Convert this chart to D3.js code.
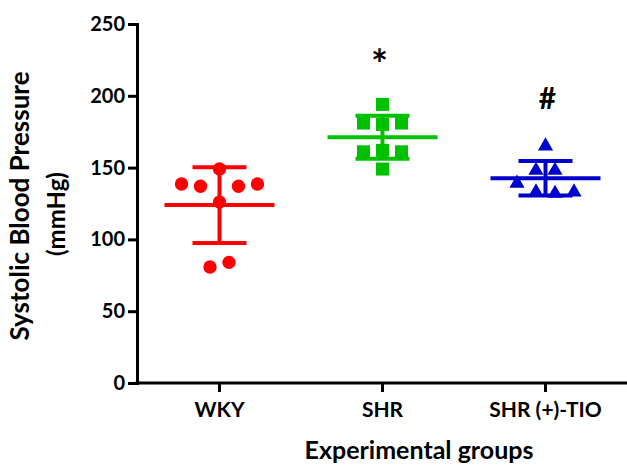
<!DOCTYPE html>
<html>
<head>
<meta charset="utf-8">
<script src="https://cdn.jsdelivr.net/npm/d3@7"></script>
<style>
    html, body { margin: 0; padding: 0; background: #fff; }
    svg text { font-family: "Lato", "Open Sans", sans-serif; font-weight: bold; fill: #000; }
</style>
</head>
<body>
<div id="chart"></div>
<script>
(function() {
    // Chart data
    const groups = ["WKY", "SHR", "SHR (+)-TIO"];
    const wkyValues = [138.6, 137, 149, 126, 137, 138.6, 80.8, 84];
    const shrValues = [194, 181, 180, 181, 161, 162, 161, 149];
    const tioValues = [165, 148, 148, 139, 133, 132, 133];
    const groupValues = [wkyValues, shrValues, tioValues];
    const groupColors = ["#ff0000", "#00c000", "#0000cc"];
    const groupSymbols = [d3.symbolCircle, d3.symbolSquare, d3.symbolTriangle];
    const symbolSizes = [140, 169, 100];
    const annotations = [null, "*", "#"];
    const yTicks = [0, 50, 100, 150, 200, 250];

    const width = 627, height = 468;
    const plot = { left: 137, right: 627, top: 24, bottom: 383 };

    const svg = d3.select("#chart")
        .append("svg")
        .attr("width", width)
        .attr("height", height);

    const x = d3.scaleBand()
        .domain(groups)
        .range([plot.left + 1, plot.right]);

    const y = d3.scaleLinear()
        .domain([0, 250])
        .range([plot.bottom, plot.top]);

    // Spread points that sit at roughly the same height into symmetric rows.
    // Even rows skip the centre slot when a centred point sits right next to them.
    function rowOffsets(values, spacing) {
        const order = values.map((v, i) => i).sort((a, b) => values[b] - values[a]);
        const rows = [];
        order.forEach(i => {
            const last = rows[rows.length - 1];
            if (last && values[last[0]] - values[i] < 8) last.push(i);
            else rows.push([i]);
        });
        const centred = rows.filter(r => r.length % 2 === 1).map(r => y(values[r[0]]));
        const offsets = new Array(values.length).fill(0);
        rows.forEach(row => {
            row.sort((a, b) => a - b);
            const n = row.length;
            const rowY = y(d3.mean(row, i => values[i]));
            const crowded = n % 2 === 0 && centred.some(cy => Math.abs(cy - rowY) < 20);
            row.forEach((idx, k) => {
                let slot = k - (n - 1) / 2;
                if (crowded) slot = slot < 0 ? slot - 0.5 : slot + 0.5;
                offsets[idx] = slot * spacing;
            });
        });
        return offsets;
    }

    // Axes
    const yAxis = d3.axisLeft(y)
        .tickValues(yTicks)
        .tickSize(9)
        .tickPadding(3);

    const yG = svg.append("g")
        .attr("transform", `translate(${plot.left},0)`)
        .call(yAxis);

    const xAxis = d3.axisBottom(x)
        .tickSize(9)
        .tickSizeOuter(0)
        .tickPadding(10);

    const xG = svg.append("g")
        .attr("transform", `translate(0,${plot.bottom})`)
        .call(xAxis);

    [yG, xG].forEach(g => {
        g.select(".domain").attr("stroke", "#000").attr("stroke-width", 3);
        g.selectAll(".tick line").attr("stroke", "#000").attr("stroke-width", 3);
        g.selectAll(".tick text").attr("fill", "#000");
    });
    yG.selectAll(".tick text").style("font-size", "20px");
    xG.selectAll(".tick text").style("font-size", "21px");
    xG.select(".domain").attr("d", `M${plot.left - 1.5},0H${plot.right}`);

    // Axis titles
    svg.append("text")
        .attr("transform", "translate(29,206) rotate(-90)")
        .attr("text-anchor", "middle")
        .style("font-size", "26px")
        .text("Systolic Blood Pressure");

    svg.append("text")
        .attr("transform", "translate(65,214) rotate(-90)")
        .attr("text-anchor", "middle")
        .style("font-size", "24px")
        .text("(mmHg)");

    svg.append("text")
        .attr("x", 419)
        .attr("y", 459)
        .attr("text-anchor", "middle")
        .style("font-size", "25px")
        .text("Experimental groups");

    // Groups: mean +/- SD bars and points
    groups.forEach((name, gi) => {
        const values = groupValues[gi];
        const color = groupColors[gi];
        const cx = x(name) + x.bandwidth() / 2;
        const mean = d3.mean(values);
        const sd = d3.deviation(values);
        const g = svg.append("g");

        g.append("line")
            .attr("x1", cx).attr("x2", cx)
            .attr("y1", y(mean + sd)).attr("y2", y(mean - sd))
            .attr("stroke", color).attr("stroke-width", 4);

        [mean + sd, mean - sd].forEach(v => {
            g.append("line")
                .attr("x1", cx - 27).attr("x2", cx + 27)
                .attr("y1", y(v)).attr("y2", y(v))
                .attr("stroke", color).attr("stroke-width", 4);
        });

        g.append("line")
            .attr("x1", cx - 55).attr("x2", cx + 55)
            .attr("y1", y(mean)).attr("y2", y(mean))
            .attr("stroke", color).attr("stroke-width", 4);

        const offsets = rowOffsets(values, 19);
        const symbol = d3.symbol().type(groupSymbols[gi]).size(symbolSizes[gi]);

        g.selectAll("path.pt")
            .data(values)
            .enter().append("path")
            .attr("class", "pt")
            .attr("d", symbol)
            .attr("transform", (d, i) => `translate(${cx + offsets[i]},${y(d)})`)
            .attr("fill", color);

        if (annotations[gi]) {
            const star = annotations[gi] === "*";
            svg.append("text")
                .attr("x", cx - (star ? 3 : -2))
                .attr("y", y(d3.max(values) + 33))
                .attr("dy", star ? "0.55em" : "0.35em")
                .attr("text-anchor", "middle")
                .style("font-size", star ? "40px" : "30px")
                .text(annotations[gi]);
        }
    });
})();
</script>
</body>
</html>
